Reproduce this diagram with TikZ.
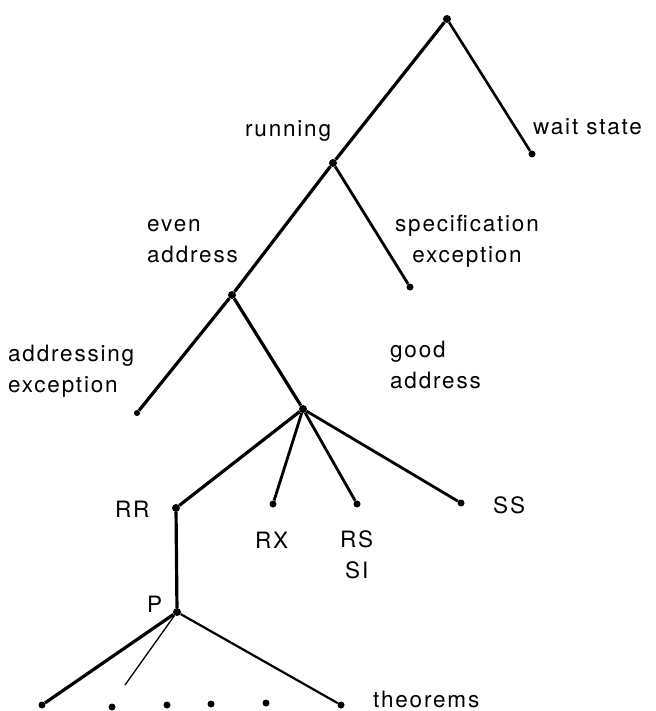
\documentclass[tikz,border=0pt]{standalone}
\usepackage{fontspec}
\setmainfont{TeX Gyre Heros}[LetterSpace=8]
\usetikzlibrary{positioning}

\tikzset{
  dot/.style={circle, fill=black, inner sep=0pt, minimum size=8pt},
  lbl/.style={anchor=base west, inner sep=0pt, font=\fontsize{22.5}{31}\selectfont},
  branch/.style={line width=3.2pt},
}

\begin{document}
\begin{tikzpicture}[x=1pt, y=-1pt]
\useasboundingbox (0,0) rectangle (655,711);

% tree points
\node[dot] (root) at (447,19) {};
\node[dot, minimum size=7pt] (wait) at (532,154) {};
\node[dot] (running) at (333,163) {};
\node[dot, minimum size=7pt] (spec) at (410,287) {};
\node[dot] (even) at (232,295) {};
\node[dot, minimum size=6pt] (addrexc) at (137,413) {};
\node[dot] (good) at (303,409) {};
\node[dot] (rr) at (176,508) {};
\node[dot, minimum size=7pt] (rx) at (273,504) {};
\node[dot, minimum size=7pt] (rs) at (357,504) {};
\node[dot, minimum size=7pt] (ss) at (461,503) {};
\node[dot] (p) at (177,612) {};
\node[dot, minimum size=7pt] (t1) at (42,705) {};
\node[dot, minimum size=7pt] (t2) at (112,707) {};
\node[dot, minimum size=7pt] (t3) at (167,705) {};
\node[dot, minimum size=7pt] (t4) at (211,704) {};
\node[dot, minimum size=7pt] (t5) at (266,703) {};
\node[dot, minimum size=7pt] (thm) at (341,705) {};
\coordinate (pcut) at (125,685);

% labels (multi-line ones sit on their last baseline)
\node[lbl] (lrunning) at (245,137) {running};
\node[lbl] (lwait) at (533,135) {wait state};
\node[lbl, align=center] (lspec) at (395,262) {specification\\exception};
\node[lbl, align=left] (leven) at (147,262) {even\\address};
\node[lbl, align=left] (laddrexc) at (8,392) {addressing\\exception};
\node[lbl, align=left] (lgood) at (390,388) {good\\address};
\node[lbl] (lrr) at (115,517) {RR};
\node[lbl] (lrx) at (255,548) {RX};
\node[lbl, align=center] (lrs) at (340,578) {RS\\SI};
\node[lbl] (lss) at (493,513) {SS};
\node[lbl] (lp) at (147,612) {P};
\node[lbl] (lthm) at (373,707) {theorems};

% branches
\draw[branch] (root) -- (running);
\draw[branch, line width=2.6pt] (root) -- (wait);
\draw[branch] (running) -- (even);
\draw[branch, line width=2.8pt] (running) -- (spec);
\draw[branch] (even) -- (addrexc);
\draw[branch] (even) -- (good);
\draw[branch] (good) -- (rr);
\draw[branch, line width=2.8pt] (good) -- (rx);
\draw[branch, line width=2.8pt] (good) -- (rs);
\draw[branch, line width=2.8pt] (good) -- (ss);
\draw[branch] (rr) -- (p);
\draw[branch] (p) -- (t1);
\draw[line width=1.3pt] (p) -- (pcut);
\draw[line width=2.2pt] (p) -- (thm);
\end{tikzpicture}
\end{document}
